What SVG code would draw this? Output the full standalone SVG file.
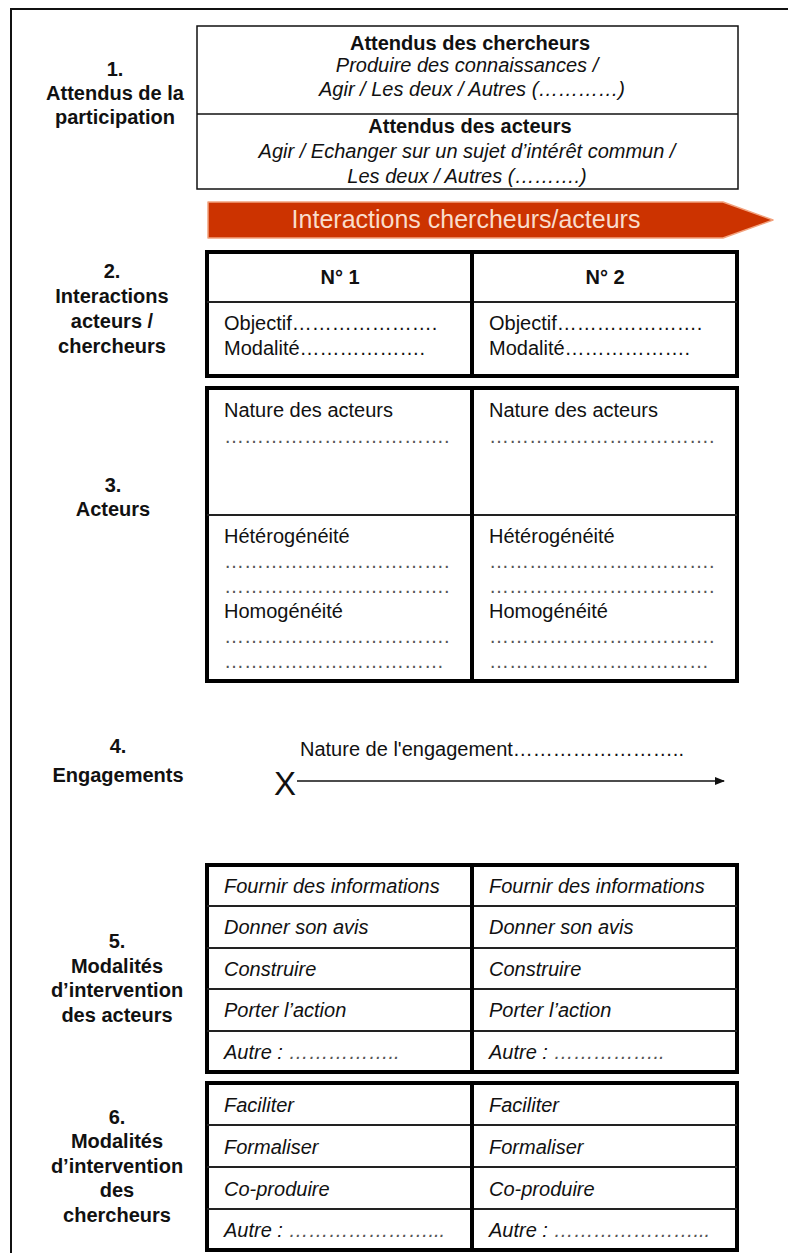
<svg xmlns="http://www.w3.org/2000/svg" width="788" height="1253" viewBox="0 0 788 1253">
<style>
.t{font-family:"Liberation Sans",Arial,sans-serif;font-size:20px;fill:#111}
.b{font-weight:bold}
.i{font-style:italic}
.c{text-anchor:middle}
.lbl{font-family:"Liberation Sans",Arial,sans-serif;font-size:20px;font-weight:bold;fill:#111;text-anchor:middle}
.d{fill:#555}
.tbl{fill:none;stroke:#000;stroke-width:4}
.row{stroke:#222;stroke-width:2}
.col{stroke:#000;stroke-width:4}
</style>
<defs>
<marker id="ah" viewBox="0 0 10 8" refX="9" refY="4" markerWidth="10" markerHeight="8" markerUnits="userSpaceOnUse" orient="auto">
<path d="M0,0 L10,4 L0,8 Z" fill="#111"/>
</marker>
</defs>
<rect width="788" height="1253" fill="#fff"/>
<rect x="11" y="9" width="800" height="1300" fill="none" stroke="#111" stroke-width="2"/>

<g id="sec1-label">
<text class="lbl" x="115" y="76">1.</text>
<text class="lbl" x="115" y="100">Attendus de la</text>
<text class="lbl" x="115" y="124">participation</text>
</g>
<g id="sec1-box">
<rect x="197" y="26" width="541" height="163" fill="#fff" stroke="#111" stroke-width="1.5"/>
<line x1="197" y1="114" x2="738" y2="114" stroke="#111" stroke-width="1.5"/>
<text class="t b c" x="470" y="50">Attendus des chercheurs</text>
<text class="t i c" x="467" y="72">Produire des connaissances /</text>
<text class="t i c" x="472" y="96">Agir / Les deux / Autres (&#8230;&#8230;&#8230;&#8230;)</text>
<text class="t b c" x="470" y="133">Attendus des acteurs</text>
<text class="t i c" x="467" y="158">Agir / Echanger sur un sujet d’intérêt commun /</text>
<text class="t i c" x="467" y="183">Les deux / Autres (&#8230;&#8230;&#8230;.)</text>
</g>

<g id="banner">
<polygon points="208,202 723,202 773,220 723,238 208,238" fill="#cc3300" stroke="#f2a27e" stroke-width="1.5" stroke-linejoin="round"/>
<text x="466" y="228" font-family="'Liberation Sans',Arial,sans-serif" font-size="25" fill="#f9dccb" text-anchor="middle">Interactions chercheurs/acteurs</text>
</g>

<g id="sec2-label">
<text class="lbl" x="112" y="278">2.</text>
<text class="lbl" x="112" y="303">Interactions</text>
<text class="lbl" x="112" y="328">acteurs /</text>
<text class="lbl" x="112" y="353">chercheurs</text>
</g>
<g id="sec2-table">
<rect class="tbl" x="207" y="252" width="530" height="124"/>
<line class="row" x1="207" y1="302" x2="737" y2="302"/>
<line class="col" x1="472" y1="252" x2="472" y2="376"/>
<text class="t b c" x="340" y="284">N° 1</text>
<text class="t b c" x="605" y="284">N° 2</text>
<text class="t" x="224" y="330">Objectif&#8230;&#8230;&#8230;&#8230;&#8230;&#8230;&#8230;.</text>
<text class="t" x="224" y="355">Modalité&#8230;&#8230;&#8230;&#8230;&#8230;&#8230;.</text>
<text class="t" x="489" y="330">Objectif&#8230;&#8230;&#8230;&#8230;&#8230;&#8230;&#8230;.</text>
<text class="t" x="489" y="355">Modalité&#8230;&#8230;&#8230;&#8230;&#8230;&#8230;.</text>
</g>

<g id="sec3-label">
<text class="lbl" x="113" y="492">3.</text>
<text class="lbl" x="113" y="516">Acteurs</text>
</g>
<g id="sec3-table">
<rect class="tbl" x="207" y="388" width="530" height="293"/>
<line class="row" x1="207" y1="515" x2="737" y2="515"/>
<line class="col" x1="472" y1="388" x2="472" y2="681"/>
<text class="t" x="224" y="417">Nature des acteurs</text>
<text class="t d" x="224" y="443">&#8230;&#8230;&#8230;&#8230;&#8230;&#8230;&#8230;&#8230;&#8230;&#8230;&#8230;.</text>
<text class="t" x="224" y="543">Hétérogénéité</text>
<text class="t d" x="224" y="568">&#8230;&#8230;&#8230;&#8230;&#8230;&#8230;&#8230;&#8230;&#8230;&#8230;&#8230;.</text>
<text class="t d" x="224" y="593">&#8230;&#8230;&#8230;&#8230;&#8230;&#8230;&#8230;&#8230;&#8230;&#8230;&#8230;.</text>
<text class="t" x="224" y="618">Homogénéité</text>
<text class="t d" x="224" y="643">&#8230;&#8230;&#8230;&#8230;&#8230;&#8230;&#8230;&#8230;&#8230;&#8230;&#8230;.</text>
<text class="t d" x="224" y="668">&#8230;&#8230;&#8230;&#8230;&#8230;&#8230;&#8230;&#8230;&#8230;&#8230;&#8230;</text>
<text class="t" x="489" y="417">Nature des acteurs</text>
<text class="t d" x="489" y="443">&#8230;&#8230;&#8230;&#8230;&#8230;&#8230;&#8230;&#8230;&#8230;&#8230;&#8230;.</text>
<text class="t" x="489" y="543">Hétérogénéité</text>
<text class="t d" x="489" y="568">&#8230;&#8230;&#8230;&#8230;&#8230;&#8230;&#8230;&#8230;&#8230;&#8230;&#8230;.</text>
<text class="t d" x="489" y="593">&#8230;&#8230;&#8230;&#8230;&#8230;&#8230;&#8230;&#8230;&#8230;&#8230;&#8230;.</text>
<text class="t" x="489" y="618">Homogénéité</text>
<text class="t d" x="489" y="643">&#8230;&#8230;&#8230;&#8230;&#8230;&#8230;&#8230;&#8230;&#8230;&#8230;&#8230;.</text>
<text class="t d" x="489" y="668">&#8230;&#8230;&#8230;&#8230;&#8230;&#8230;&#8230;&#8230;&#8230;&#8230;&#8230;</text>
</g>

<g id="sec4-label">
<text class="lbl" x="118" y="753">4.</text>
<text class="lbl" x="118" y="782">Engagements</text>
</g>
<g id="sec4-engagement">
<text x="285" y="795" font-family="'Liberation Sans',Arial,sans-serif" font-size="33" fill="#111" text-anchor="middle">X</text>
<text class="t" x="300" y="756">Nature de l'engagement&#8230;&#8230;&#8230;&#8230;&#8230;&#8230;&#8230;&#8230;..</text>
</g>

<g id="sec5-label">
<text class="lbl" x="117" y="948">5.</text>
<text class="lbl" x="117" y="973">Modalités</text>
<text class="lbl" x="117" y="997">d’intervention</text>
<text class="lbl" x="117" y="1022">des acteurs</text>
</g>
<g id="sec5-table">
<rect class="tbl" x="207" y="865" width="530" height="207"/>
<line class="row" x1="207" y1="906" x2="737" y2="906"/>
<line class="row" x1="207" y1="948" x2="737" y2="948"/>
<line class="row" x1="207" y1="989" x2="737" y2="989"/>
<line class="row" x1="207" y1="1031" x2="737" y2="1031"/>
<line class="col" x1="472" y1="865" x2="472" y2="1072"/>
<text class="t i" x="224" y="893">Fournir des informations</text>
<text class="t i" x="224" y="934">Donner son avis</text>
<text class="t i" x="224" y="976">Construire</text>
<text class="t i" x="224" y="1017">Porter l’action</text>
<text class="t i" x="224" y="1059">Autre : <tspan class="d">&#8230;&#8230;&#8230;&#8230;&#8230;..</tspan></text>
<text class="t i" x="489" y="893">Fournir des informations</text>
<text class="t i" x="489" y="934">Donner son avis</text>
<text class="t i" x="489" y="976">Construire</text>
<text class="t i" x="489" y="1017">Porter l’action</text>
<text class="t i" x="489" y="1059">Autre : <tspan class="d">&#8230;&#8230;&#8230;&#8230;&#8230;..</tspan></text>
</g>

<g id="sec6-label">
<text class="lbl" x="117" y="1124">6.</text>
<text class="lbl" x="117" y="1148">Modalités</text>
<text class="lbl" x="117" y="1173">d’intervention</text>
<text class="lbl" x="117" y="1197">des</text>
<text class="lbl" x="117" y="1222">chercheurs</text>
</g>
<g id="sec6-table">
<rect class="tbl" x="207" y="1083" width="530" height="167"/>
<line class="row" x1="207" y1="1125" x2="737" y2="1125"/>
<line class="row" x1="207" y1="1167" x2="737" y2="1167"/>
<line class="row" x1="207" y1="1209" x2="737" y2="1209"/>
<line class="col" x1="472" y1="1083" x2="472" y2="1250"/>
<text class="t i" x="224" y="1112">Faciliter</text>
<text class="t i" x="224" y="1154">Formaliser</text>
<text class="t i" x="224" y="1196">Co-produire</text>
<text class="t i" x="224" y="1237">Autre : <tspan class="d">&#8230;&#8230;&#8230;&#8230;&#8230;&#8230;&#8230;...</tspan></text>
<text class="t i" x="489" y="1112">Faciliter</text>
<text class="t i" x="489" y="1154">Formaliser</text>
<text class="t i" x="489" y="1196">Co-produire</text>
<text class="t i" x="489" y="1237">Autre : <tspan class="d">&#8230;&#8230;&#8230;&#8230;&#8230;&#8230;&#8230;...</tspan></text>
</g>

<g id="connectors">
<line x1="297" y1="781" x2="724" y2="781" stroke="#111" stroke-width="1.5" marker-end="url(#ah)"/>
</g>
</svg>
